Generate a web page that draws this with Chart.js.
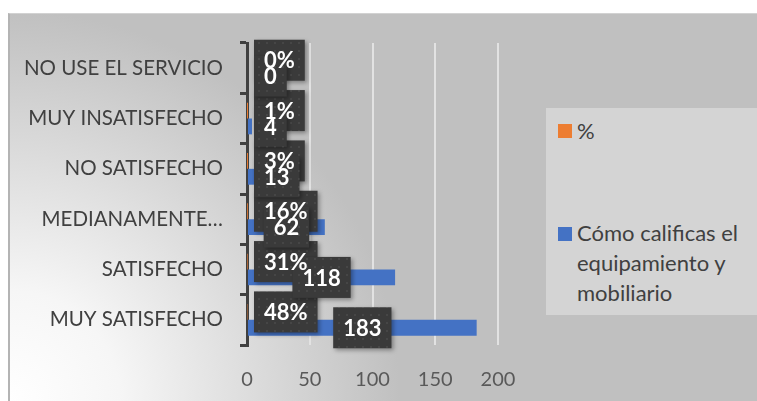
<!DOCTYPE html>
<html><head><meta charset="utf-8">
<script src="https://cdn.jsdelivr.net/npm/chart.js@4"></script>
<style>
html,body{margin:0;padding:0;width:757px;height:401px;overflow:hidden;background:#fff;}
#frame{position:absolute;left:8px;top:13px;width:749px;height:388px;box-sizing:border-box;
  background:radial-gradient(circle at 0 100%, #ffffff 0px, #f6f6f6 110px, #c0c0c0 390px);
  border-left:2px solid #b4b4b4;border-top:1px solid #d2d2d2;}
#c{position:absolute;left:0;top:0;}
#legend{position:absolute;left:546px;top:108px;width:211px;height:207px;background:#d4d4d4;
  font-family:Lato, 'Open Sans', sans-serif;font-size:22px;color:#404040;}
.sw{position:absolute;left:12px;width:14px;height:14px;}
.lt{position:absolute;left:31px;width:176px;line-height:30px;}
</style>
</head><body>
<div id="frame"></div>
<canvas id="c" width="757" height="401"></canvas>
<div id="legend"></div>
<script>
const categories = ['NO USE EL SERVICIO','MUY INSATISFECHO','NO SATISFECHO','MEDIANAMENTE…','SATISFECHO','MUY SATISFECHO'];
const percentValues = [0, 0.01, 0.03, 0.16, 0.31, 0.48];
const countValues = [0, 4, 13, 62, 118, 183];
const xTickValues = [0, 50, 100, 150, 200];
const seriesNames = ['%', 'Cómo calificas el equipamiento y mobiliario'];
const seriesColors = ['#ED7D31', '#4472C4'];

function makePattern(ctx){
  const p = document.createElement('canvas'); p.width = 8; p.height = 8;
  const g = p.getContext('2d');
  g.fillStyle = '#3a3a3a'; g.fillRect(0,0,8,8);
  g.fillStyle = '#464646'; g.fillRect(2,2,2,2);
  return ctx.createPattern(p, 'repeat');
}

const labelPlugin = {
  id: 'boxLabels',
  afterDatasetsDraw(chart){
    const ctx = chart.ctx, area = chart.chartArea;
    ctx.save();
    ctx.font = 'bold 22px Lato';
    const items = [];
    chart.data.datasets.forEach((ds, di) => {
      const meta = chart.getDatasetMeta(di);
      meta.data.forEach((bar, i) => {
        const v = ds.data[i];
        const txt = di === 0 ? Math.round(v*100) + '%' : String(v);
        const w = ctx.measureText(txt).width + 20, h = 41;
        const cx = (bar.x + bar.base) / 2;
        let left = cx - w/2;
        if (left < area.left + 7) left = area.left + 7;
        items.push({txt, left, top: bar.y - h/2, w, h, y: bar.y});
      });
    });
    const pat = makePattern(ctx);
    items.forEach(it => {
      ctx.save();
      ctx.shadowColor = 'rgba(0,0,0,0.35)';
      ctx.shadowBlur = 4; ctx.shadowOffsetX = 2; ctx.shadowOffsetY = 2;
      ctx.fillStyle = pat;
      ctx.fillRect(it.left, it.top, it.w, it.h);
      ctx.restore();
    });
    ctx.fillStyle = '#ffffff';
    ctx.textAlign = 'center';
    ctx.textBaseline = 'middle';
    items.forEach(it => {
      ctx.fillText(it.txt, it.left + it.w/2, it.y + 1);
    });
    ctx.restore();
  }
};

function draw(){
  const chart = new Chart(document.getElementById('c'), {
    type: 'bar',
    data: {
      labels: categories,
      datasets: [
        {label: seriesNames[0], data: percentValues, backgroundColor: seriesColors[0]},
        {label: seriesNames[1], data: countValues, backgroundColor: seriesColors[1]}
      ]
    },
    options: {
      indexAxis: 'y',
      responsive: false,
      animation: false,
      devicePixelRatio: 1,
      categoryPercentage: 0.63,
      barPercentage: 1.0,
      layout: {padding: {left: 0, top: 43, right: 259, bottom: 0}},
      plugins: {legend: {display: false}, tooltip: {enabled: false}},
      scales: {
        x: {
          min: 0, max: 200,
          afterBuildTicks(s){ s.ticks = xTickValues.map(v => ({value: v})); },
          ticks: {color: '#595959', font: {family: 'Lato', size: 20}, padding: 23},
          grid: {color: '#e2e2e2', lineWidth: 2, drawTicks: false},
          border: {display: false},
          afterFit(s){ s.height = 56; }
        },
        y: {
          ticks: {color: '#404040', font: {family: 'Lato', size: 20.5}, padding: 17},
          grid: {drawOnChartArea: false, color: '#404040', lineWidth: 3, tickLength: 7, offset: true},
          border: {color: '#404040', width: 3},
          afterFit(s){ s.width = 247; }
        }
      }
    },
    plugins: [labelPlugin]
  });

  const lg = document.getElementById('legend');
  const tops = [{sw: 16, txt: 8}, {sw: 119, txt: 110}];
  chart.data.datasets.forEach((ds, i) => {
    const sw = document.createElement('div');
    sw.className = 'sw'; sw.style.top = tops[i].sw + 'px'; sw.style.background = ds.backgroundColor;
    const t = document.createElement('div');
    t.className = 'lt'; t.style.top = tops[i].txt + 'px'; t.textContent = ds.label;
    lg.appendChild(sw); lg.appendChild(t);
  });
}

Promise.all([
  document.fonts.load('20px Lato'),
  document.fonts.load('bold 22px Lato')
]).then(draw, draw);
</script>
</body></html>
